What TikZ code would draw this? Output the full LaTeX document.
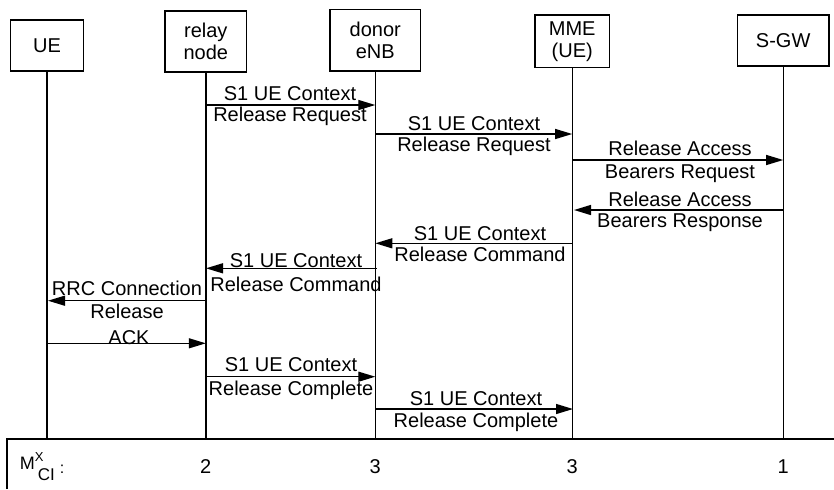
\documentclass[tikz,border=0pt]{standalone}
\usepackage{fontspec}
\setmainfont{Liberation Sans}
\usetikzlibrary{arrows.meta}
\begin{document}
\begin{tikzpicture}[x=0.5pt,y=-0.5pt,
  ent/.style={draw,line width=0.75pt,inner sep=0pt,align=center,font=\fontsize{10}{11}\selectfont},
  life/.style={line width=0.7pt},
  msg/.style={line width=0.65pt,-{Triangle[length=8.5pt,width=5pt]}},
  lbl/.style={anchor=base,inner sep=0pt,font=\fontsize{10}{11}\selectfont}]
\useasboundingbox (0,0) rectangle (834,489);
% entities
\node[ent,minimum width=36.3pt,minimum height=25.5pt] (ue) at (47,45.5) {UE};
\node[ent,minimum width=40.8pt,minimum height=30.5pt] (rn) at (205.8,41.5) {relay\\node};
\node[ent,minimum width=45.3pt,minimum height=30.8pt] (enb) at (375.3,40.2) {donor\\eNB};
\node[ent,minimum width=37.2pt,minimum height=26.2pt] (mme) at (572.2,41.2) {MME\\(UE)};
\node[ent,minimum width=45.8pt,minimum height=25.5pt] (sgw) at (783.2,40.5) {S-GW};
% lifeline ends
\coordinate (ueE) at (47,439);
\coordinate (rnE) at (205.8,439);
\coordinate (enbE) at (375.3,439);
\coordinate (mmeE) at (572.2,439);
\coordinate (sgwE) at (783.2,439);
\draw[life] (ue.south) -- (ueE);
\draw[life] (rn.south) -- (rnE);
\draw[life] (enb.south) -- (enbE);
\draw[life] (mme.south) -- (mmeE);
\draw[life] (sgw.south) -- (sgwE);
% bottom bar
\coordinate (barL) at (6.7,489);
\coordinate (barC) at (6.7,439);
\coordinate (barR) at (834,439);
\draw[line width=0.8pt] (barL) -- (barC) -- (barR);
% message end points
\coordinate (m1s) at (205.8,105);  \coordinate (m1e) at (375.3,105);
\coordinate (m2s) at (375.3,134);  \coordinate (m2e) at (572.2,134);
\coordinate (m3s) at (572.2,160);  \coordinate (m3e) at (783.2,160);
\coordinate (m4s) at (783.2,210);  \coordinate (m4e) at (574,210);
\coordinate (m5s) at (572.2,243.3);\coordinate (m5e) at (375.3,243.3);
\coordinate (m6s) at (376.5,268.3);\coordinate (m6e) at (206,268.3);
\coordinate (m7s) at (205.8,300.7);\coordinate (m7e) at (48,300.7);
\coordinate (m8s) at (47,343.3);   \coordinate (m8e) at (205.8,343.3);
\coordinate (m9s) at (205.8,376.7);\coordinate (m9e) at (375.3,376.7);
\coordinate (m10s) at (375.3,409); \coordinate (m10e) at (573,409);
\draw[msg] (m1s) -- (m1e);
\draw[msg] (m2s) -- (m2e);
\draw[msg] (m3s) -- (m3e);
\draw[msg] (m4s) -- (m4e);
\draw[msg] (m5s) -- (m5e);
\draw[msg] (m6s) -- (m6e);
\draw[msg] (m7s) -- (m7e);
\draw[msg] (m8s) -- (m8e);
\draw[msg] (m9s) -- (m9e);
\draw[msg] (m10s) -- (m10e);
% labels
\node[lbl] (l1a) at (290,100) {S1 UE Context};
\node[lbl] (l1b) at (290,121) {Release Request};
\node[lbl] (l2a) at (474,130.5) {S1 UE Context};
\node[lbl] (l2b) at (474,151.5) {Release Request};
\node[lbl] (l3a) at (680,155.5) {Release Access};
\node[lbl] (l3b) at (680,178) {Bearers Request};
\node[lbl] (l4a) at (680,206) {Release Access};
\node[lbl] (l4b) at (680,227) {Bearers Response};
\node[lbl] (l5a) at (480,240) {S1 UE Context};
\node[lbl] (l5b) at (480,261.5) {Release Command};
\node[lbl] (l6a) at (296,267) {S1 UE Context};
\node[lbl] (l6b) at (296,291) {Release Command};
\node[lbl] (l7a) at (127,295) {RRC Connection};
\node[lbl] (l7b) at (127,318) {Release};
\node[lbl] (l8a) at (129,344) {ACK};
\node[lbl] (l9a) at (291,371.5) {S1 UE Context};
\node[lbl] (l9b) at (291,395) {Release Complete};
\node[lbl] (l10a) at (476,405) {S1 UE Context};
\node[lbl] (l10b) at (476,427) {Release Complete};
% bottom row
\node[lbl,anchor=base west] (mx) at (19.5,469) {\fontsize{9}{9}\selectfont M\rlap{\raisebox{4pt}{\fontsize{6.5}{6.5}\selectfont X}}\hspace{1.5pt}\raisebox{-5.5pt}{\fontsize{8.5}{8.5}\selectfont CI}\hspace{2.5pt}\raisebox{-2pt}{\fontsize{8}{8}\selectfont :}};
\node[lbl] (n1) at (205.8,473) {2};
\node[lbl] (n2) at (375.3,473) {3};
\node[lbl] (n3) at (572.2,473) {3};
\node[lbl] (n4) at (783.2,473) {1};
\end{tikzpicture}
\end{document}
